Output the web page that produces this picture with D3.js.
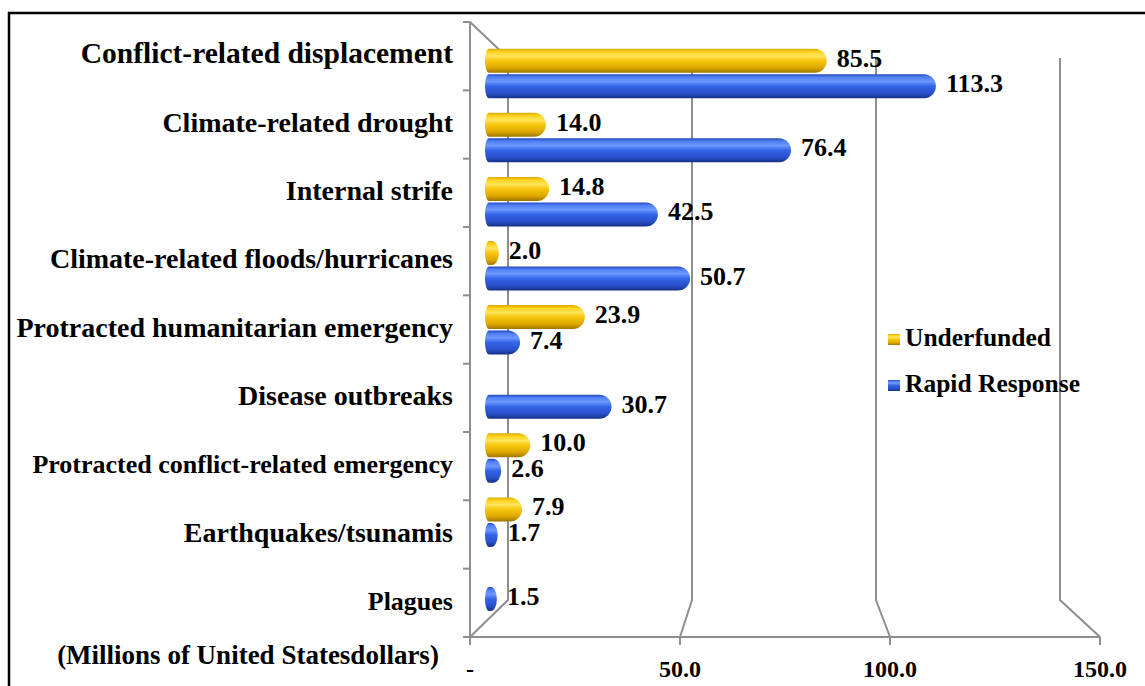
<!DOCTYPE html>
<html>
<head>
<meta charset="utf-8">
<script src="https://cdn.jsdelivr.net/npm/d3@7"></script>
<style>
    body { margin: 0; background: white; }
    svg { display: block; }
    text { font-family: "Liberation Serif", "Times New Roman", serif; font-weight: bold; fill: black; }
</style>
</head>
<body>
<svg class="svgMain" width="1145" height="686"></svg>
<script>
// Draw the CERF allocations chart (fake 3D cylinder bars).

var categories = [
    "Conflict-related displacement",
    "Climate-related drought",
    "Internal strife",
    "Climate-related floods/hurricanes",
    "Protracted humanitarian emergency",
    "Disease outbreaks",
    "Protracted conflict-related emergency",
    "Earthquakes/tsunamis",
    "Plagues"
];
var seriesNames = ["Underfunded", "Rapid Response"];
var underfunded = [85.5, 14.0, 14.8, 2.0, 23.9, 0, 10.0, 7.9, 0];
var rapidResponse = [113.3, 76.4, 42.5, 50.7, 7.4, 30.7, 2.6, 1.7, 1.5];
var xTicks = [0, 50, 100, 150];
var xTickLabels = ["-", "50.0", "100.0", "150.0"];
var axisTitle = "(Millions of United Statesdollars)";

var GRID_COLOR = "#8e8e8e";
var BAR_H = 24;

var svgMain;

// Helper Functions
function barPath (x0, x1, top, h) {
    let rx = Math.min(12, (x1 - x0) / 2);
    let lx = 4;
    let bot = top + h;
    return "M" + (x0 + lx) + "," + top +
        " H" + (x1 - rx) +
        " A" + rx + "," + (h / 2) + " 0 0 1 " + (x1 - rx) + "," + bot +
        " H" + (x0 + lx) +
        " A" + lx + "," + (h / 2) + " 0 0 1 " + (x0 + lx) + "," + top + " Z";
}

function addGradient (defs, id, stops) {
    let g = defs.append("linearGradient").attr("id", id)
        .attr("x1", 0).attr("y1", 0).attr("x2", 0).attr("y2", 1);
    stops.forEach(function (s) {
        g.append("stop").attr("offset", s[0]).attr("stop-color", s[1]);
    });
}

// Main Functions
function setupSVG () {
    svgMain = d3.select(".svgMain");
    let defs = svgMain.append("defs");
    addGradient(defs, "gradYellow", [
        [0, "#d9a800"], [0.12, "#ffd21a"], [0.3, "#ffe45c"], [0.5, "#f7c70c"],
        [0.8, "#dca600"], [1, "#9c7500"]]);
    addGradient(defs, "gradBlue", [
        [0, "#2447b8"], [0.12, "#4f7ff5"], [0.3, "#6e98ff"], [0.5, "#3464e6"],
        [0.8, "#2850c8"], [1, "#172f86"]]);
}

function drawFrame () {
    svgMain.append("rect")
        .attr("x", 9).attr("y", 13)
        .attr("width", 1160).attr("height", 700)
        .attr("fill", "white").attr("stroke", "black").attr("stroke-width", 2.5);
}

function drawWalls (xFront, xBack, yFront) {
    let g = svgMain.append("g")
        .attr("stroke", GRID_COLOR).attr("stroke-width", 2).attr("fill", "none");
    let frontTop = 22, frontBot = 637, backTop = 58, backBot = 600;
    // left wall
    g.append("line").attr("x1", xFront(0)).attr("y1", frontTop).attr("x2", xFront(0)).attr("y2", frontBot);
    g.append("line").attr("x1", xFront(0)).attr("y1", frontTop).attr("x2", xBack(0)).attr("y2", backTop);
    // back gridlines dropping onto the floor
    xTicks.forEach(function (t) {
        g.append("polyline")
            .attr("points", [[xBack(t), backTop], [xBack(t), backBot], [xFront(t), frontBot]].join(" "));
        g.append("line").attr("x1", xFront(t)).attr("y1", frontBot).attr("x2", xFront(t)).attr("y2", frontBot + 8);
    });
    // floor front edge
    g.append("line").attr("x1", xFront(0)).attr("y1", frontBot).attr("x2", xFront(150)).attr("y2", frontBot);
    // category ticks on left wall
    let bounds = categories.map(function (c) { return yFront(c); }).concat([frontBot]);
    bounds.forEach(function (y) {
        g.append("line").attr("x1", xFront(0) - 7).attr("y1", y).attr("x2", xFront(0)).attr("y2", y);
    });
}

function drawBars (xBar, yBar, ySeries) {
    let seriesData = [underfunded, rapidResponse];
    let fills = ["url(#gradYellow)", "url(#gradBlue)"];
    for (let s = 0; s < seriesData.length; s++) {
        for (let i = 0; i < categories.length; i++) {
            let v = seriesData[s][i];
            if (v <= 0) { continue; }
            let top = yBar(categories[i]) + ySeries(seriesNames[s]);
            let x1 = xBar(v);
            let x0 = xBar(0) - 6;
            svgMain.append("path")
                .attr("d", barPath(x0, x1, top, BAR_H))
                .attr("fill", fills[s]);
            svgMain.append("text")
                .attr("x", x1 + 10).attr("y", top + BAR_H / 2 + 6)
                .attr("font-size", 26)
                .text(d3.format(".1f")(v));
        }
    }
}

function drawLabels (xFront, yFront) {
    categories.forEach(function (c) {
        let size = 28;
        if (c == "Conflict-related displacement") { size = 29.5; }
        if (c == "Protracted conflict-related emergency") { size = 26; }
        if (c == "Plagues") { size = 26; }
        svgMain.append("text")
            .attr("x", 453).attr("y", yFront(c) + yFront.bandwidth() / 2 + 7)
            .attr("text-anchor", "end")
            .attr("font-size", size)
            .text(c);
    });
    xTicks.forEach(function (t, i) {
        svgMain.append("text")
            .attr("x", xFront(t)).attr("y", 677)
            .attr("text-anchor", "middle")
            .attr("font-size", 24)
            .text(xTickLabels[i]);
    });
    svgMain.append("text")
        .attr("x", 248).attr("y", 664)
        .attr("text-anchor", "middle")
        .attr("font-size", 27)
        .text(axisTitle);
}

function drawLegend () {
    let fills = ["url(#gradYellow)", "url(#gradBlue)"];
    seriesNames.forEach(function (n, i) {
        let y = 339 + i * 46;
        svgMain.append("rect")
            .attr("x", 888).attr("y", y - 5)
            .attr("width", 12).attr("height", 11)
            .attr("fill", fills[i]);
        svgMain.append("text")
            .attr("x", 905).attr("y", y + 7)
            .attr("font-size", 25.5)
            .text(n);
    });
}

setupSVG();
drawFrame();

var xFront = d3.scaleLinear().domain([0, 150]).range([470, 1100]);
var xBack = d3.scaleLinear().domain([0, 150]).range([508, 1060]);
var xBar = d3.scaleLinear().domain([0, 150]).range([491, 1080]);
var yFront = d3.scaleBand().domain(categories).range([22, 637]);
var yBar = d3.scaleBand().domain(categories).range([41.7, 618.6]);
var ySeries = d3.scaleBand().domain(seriesNames).range([7, 57]).paddingInner(0.04);

drawWalls(xFront, xBack, yFront);
drawBars(xBar, yBar, ySeries);
drawLegend();
drawLabels(xFront, yFront);
</script>
</body>
</html>
